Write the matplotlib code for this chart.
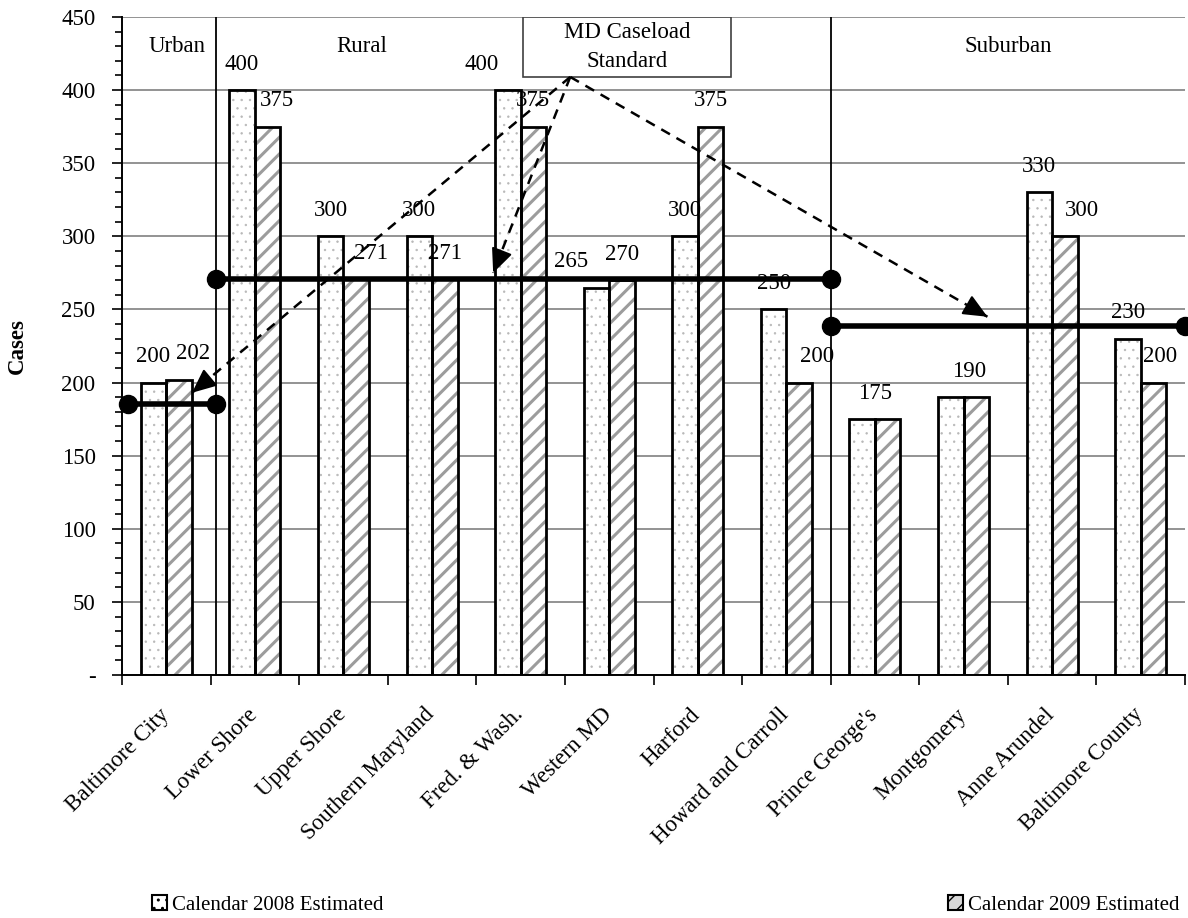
import numpy as np
import matplotlib
matplotlib.use("Agg")
import matplotlib.pyplot as plt
from matplotlib.patches import Patch, Rectangle
from matplotlib.ticker import FixedLocator, MultipleLocator, FuncFormatter
from matplotlib.transforms import ScaledTranslation

plt.rcParams['font.family'] = ['Liberation Serif', 'DejaVu Serif']
plt.rcParams['font.size'] = 16.5

# --- data -------------------------------------------------------------
regions = ['Baltimore City', 'Lower Shore', 'Upper Shore', 'Southern Maryland',
           'Fred. & Wash.', 'Western MD', 'Harford', 'Howard and Carroll',
           "Prince George's", 'Montgomery', 'Anne Arundel', 'Baltimore County']
cal_2008 = [200, 400, 300, 300, 400, 265, 300, 250, 175, 190, 330, 230]
cal_2009 = [202, 375, 271, 271, 375, 270, 375, 200, 175, 190, 300, 200]

groups = ['Urban', 'Rural', 'Suburban']
group_standard = [185, 271, 239]

# --- layout / styling (not data) ---------------------------------------
bar_w = 0.288
lbl_dx_08 = [0, 0, 0, 0, -19, -18, 0, 0, 0, 4, 0, 0]    # points
lbl_dx_09 = [10, 7, 11, 0, 0, 0, 0, 13, 0, 0, 12, 5]
lbl_dy = 18.5

fig = plt.figure(figsize=(11.88, 9.18), dpi=100)
ax = fig.add_axes([122/1188, 1 - 675/918, (1185 - 122)/1188, (675 - 17)/918])

x = np.arange(len(regions))

# bar fills (hatch colour comes from the edge colour, edge width 0)
b08 = ax.bar(x - bar_w/2, cal_2008, bar_w, facecolor='white', edgecolor='#b8b8b8',
             linewidth=0, hatch='..', zorder=2)
b09 = ax.bar(x + bar_w/2, cal_2009, bar_w, facecolor='white', edgecolor='#9c9c9c',
             linewidth=0, hatch='//', zorder=2)
for p in b08:
    if hasattr(p, 'set_hatch_linewidth'):
        p.set_hatch_linewidth(0.5)
for p in b09:
    if hasattr(p, 'set_hatch_linewidth'):
        p.set_hatch_linewidth(2.2)
# outlines
ax.bar(x - bar_w/2, cal_2008, bar_w, fill=False, edgecolor='black', linewidth=2, zorder=3)
ax.bar(x + bar_w/2, cal_2009, bar_w, fill=False, edgecolor='black', linewidth=2, zorder=3)

# value labels
for i in range(len(regions)):
    if cal_2008[i] == cal_2009[i]:
        ax.annotate(str(cal_2008[i]), (x[i], cal_2008[i]), xytext=(lbl_dx_08[i], lbl_dy),
                    textcoords='offset points', ha='center', va='center', zorder=6)
        continue
    ax.annotate(str(cal_2008[i]), (x[i] - bar_w/2, cal_2008[i]), xytext=(lbl_dx_08[i], lbl_dy),
                textcoords='offset points', ha='center', va='center', zorder=6)
    ax.annotate(str(cal_2009[i]), (x[i] + bar_w/2, cal_2009[i]), xytext=(lbl_dx_09[i], lbl_dy),
                textcoords='offset points', ha='center', va='center', zorder=6)

# group spans: separators drawn just right of the category boundary, as in the original
edges = [-0.43, 0.56, 7.5, len(regions) - 0.5]
for g in range(len(groups)):
    x0, x1 = edges[g], edges[g + 1]
    ax.plot([x0, x1], [group_standard[g]] * 2, color='black', lw=4, zorder=5,
            marker='o', markersize=13, clip_on=False)
for xs in edges[1:3]:
    ax.axvline(xs, color='black', lw=1.3, zorder=1)

label_x = [0.12, 2.21, 9.5]
for g, name in enumerate(groups):
    ax.text(label_x[g], 430, name, ha='center', va='center')

# "MD Caseload Standard" callout
ax.add_patch(Rectangle((4.03, 409), 2.35, 41, facecolor='white', edgecolor='#404040',
                       lw=1.2, zorder=4))
ax.text(5.2, 429.5, 'MD Caseload\nStandard', ha='center', va='center', zorder=7,
        linespacing=1.55)

ax.set_xlim(-0.5, len(regions) - 0.5)
ax.set_ylim(0, 450)

start = np.array([4.56, 409])
targets = [(0.29, 193), (3.69, 275), (9.27, 245)]
to_px = ax.transData
for tx, ty in targets:
    tip = np.array([tx, ty])
    ax.plot([start[0], tip[0]], [start[1], tip[1]], color='black', lw=1.8,
            linestyle=(0, (4, 3)), zorder=8)
    # solid head: back off ~16 px along the line
    p0, p1 = to_px.transform(start), to_px.transform(tip)
    back = p1 - (p1 - p0) / np.linalg.norm(p1 - p0) * 16
    back = to_px.inverted().transform(back)
    ax.annotate('', xy=tip, xytext=back,
                arrowprops=dict(arrowstyle='-|>,head_length=0.9,head_width=0.4',
                                lw=1.5, color='black', shrinkA=0, shrinkB=0), zorder=9)

# axes
ax.yaxis.set_major_locator(MultipleLocator(50))
ax.yaxis.set_minor_locator(MultipleLocator(10))
ax.yaxis.set_major_formatter(FuncFormatter(lambda v, p: '-' if v == 0 else f'{v:.0f}'))
ax.tick_params(axis='y', which='major', length=7, width=1.2, pad=12)
ax.tick_params(axis='y', which='minor', length=5, width=1.2)
ax.grid(axis='y', which='major', color='#808080', lw=1.2, zorder=0)
ax.set_axisbelow(True)

ax.xaxis.set_major_locator(FixedLocator(np.arange(len(regions) + 1) - 0.5))
ax.xaxis.set_major_formatter(FuncFormatter(lambda v, p: ''))
ax.set_xticks(x, regions, minor=True, rotation=45, ha='right', rotation_mode='anchor')
ax.tick_params(axis='x', which='major', length=7, width=1.2)
ax.tick_params(axis='x', which='minor', length=0, pad=21)
shift = ScaledTranslation(-0.08, 0, fig.dpi_scale_trans)
for lbl in ax.get_xticklabels(minor=True):
    lbl.set_transform(lbl.get_transform() + shift)

for s in ['top', 'right']:
    ax.spines[s].set_visible(False)
ax.spines['left'].set_linewidth(1.4)
ax.spines['bottom'].set_linewidth(1.4)

ax.set_ylabel('Cases', fontweight='bold')
ax.yaxis.set_label_coords(-0.089, 0.5)

h08 = Patch(facecolor='white', edgecolor='black', hatch='..', lw=1.5)
h09 = Patch(facecolor='#d8d8d8', edgecolor='black', hatch='//', lw=1.5)
for h, lab, x0 in [(h08, 'Calendar 2008 Estimated', 152),
                   (h09, 'Calendar 2009 Estimated', 948)]:
    fig.legend(handles=[h], labels=[lab], loc='center left', fontsize=15,
               bbox_to_anchor=(x0/1188, 1 - 905/918), frameon=False,
               borderpad=0, borderaxespad=0,
               handlelength=0.7, handleheight=0.7, handletextpad=0.25)

fig.savefig('out.png', dpi=100)
